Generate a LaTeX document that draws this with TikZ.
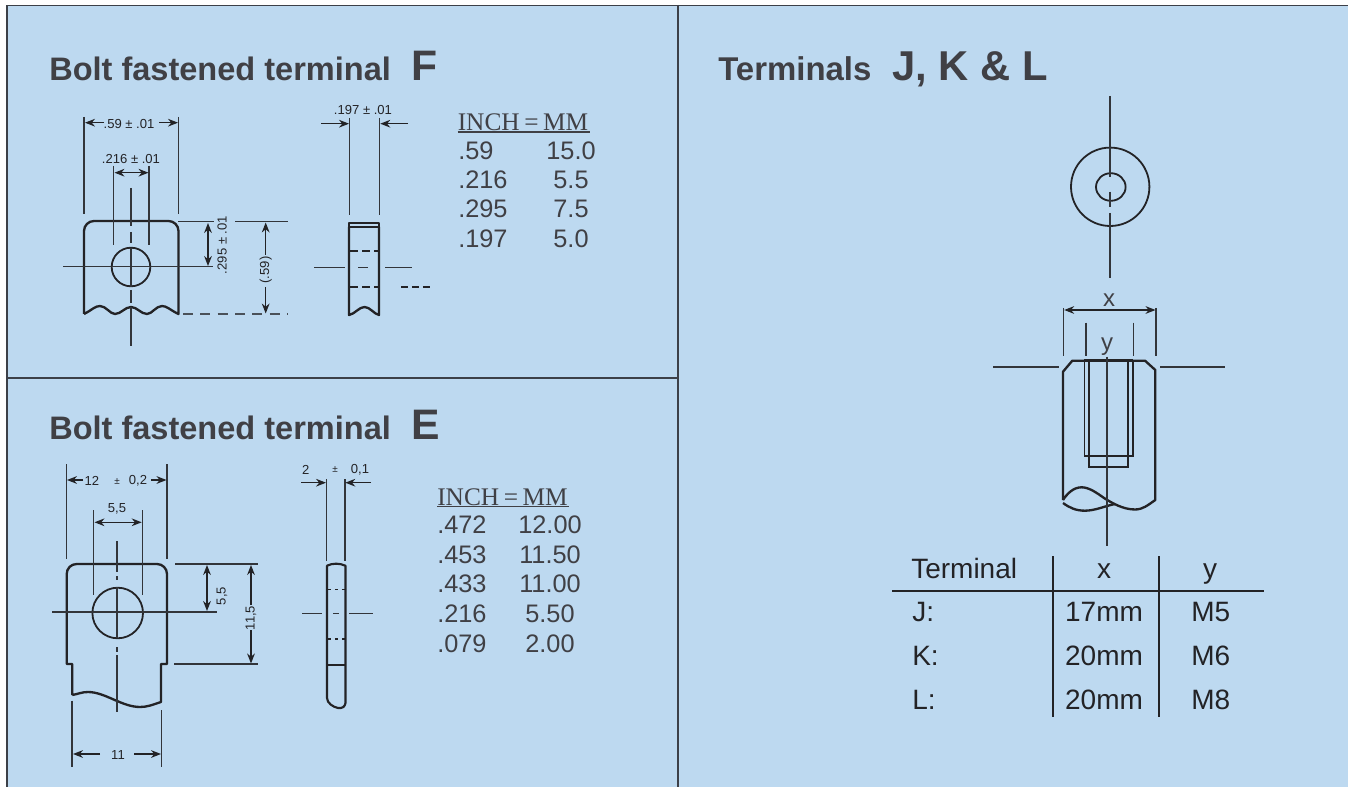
\documentclass[tikz,border=0pt]{standalone}
\usepackage{fontspec}
\setmainfont{Liberation Sans}
\newfontfamily\serifface{Liberation Serif}
\usetikzlibrary{arrows.meta}
\definecolor{panel}{HTML}{BDD9F0}
\definecolor{ink}{HTML}{232326}
\definecolor{frameink}{HTML}{3C4048}
\definecolor{txt}{HTML}{404045}
\newcommand{\fs}[1]{\fontsize{#1}{#1}\selectfont}
\tikzset{
  x=0.75pt,y=-0.75pt,
  outline/.style={draw=ink,line width=1.75pt,line join=round},
  ring/.style={draw=ink,line width=1.35pt},
  thin line/.style={draw=ink!90!panel,line width=0.9pt},
  dim/.style={draw=ink,line width=0.9pt,-{Stealth[length=7.5pt,width=5.8pt]}},
  dimboth/.style={draw=ink,line width=0.9pt,{Stealth[length=7.5pt,width=5.8pt]}-{Stealth[length=7.5pt,width=5.8pt]}},
  lab/.style={inner sep=0pt,text=ink,font=\fs{9.8}},
  title/.style={inner sep=0pt,anchor=base west,text=txt,font=\fs{24.4}\bfseries},
  bigt/.style={inner sep=0pt,anchor=base west,text=txt,font=\fs{32}\bfseries},
  inchhead/.style={inner sep=0pt,anchor=base west,text=txt,font=\serifface\fs{19}},
  rowl/.style={inner sep=0pt,anchor=base west,text=txt,font=\fs{19}},
  rowr/.style={inner sep=0pt,anchor=base,text=txt,font=\fs{19}},
  tbl/.style={inner sep=0pt,anchor=base,text=ink,font=\fs{21}},
  tbll/.style={inner sep=0pt,anchor=base west,text=ink,font=\fs{21}},
}
\begin{document}
\begin{tikzpicture}
\useasboundingbox (0,0) rectangle (1348,787);
\fill[white] (0,0) rectangle (1348,787);
\fill[panel] (7,5) rectangle (1348,787);
\draw[frameink,line width=1pt] (7,787) -- (7,5.5) -- (1348,5.5);
\draw[frameink,line width=1.1pt] (678,5) -- (678,787);
\draw[frameink,line width=1.1pt] (7,378) -- (678,378);

% ---------- Terminal F ----------
\node[title] (tF) at (49,81) {Bolt fastened terminal};
\node[bigt] (bF) at (411,81) {F};
\draw[outline] (84,314) -- (84,231) .. controls (84,225.5) and (88.5,221) .. (94,221) -- (168.5,221) .. controls (174,221) and (178.5,225.5) .. (178.5,231) -- (178.5,314)
  .. controls (170,310) and (167,306) .. (162,306) .. controls (156,306) and (152,314) .. (147,314)
  .. controls (141,314) and (137,307) .. (131,307) .. controls (125,307) and (121,314) .. (115,314)
  .. controls (110,314) and (106,306) .. (100,306) .. controls (95,306) and (92,310) .. (84,314);
\draw[ring] (131,267) circle[radius=19.3];
\draw[thin line] (84,117) -- (84,214);
\draw[thin line] (178.6,117) -- (178.6,214);
\draw[dim] (104,122.7) -- (85,122.7);
\draw[dim] (159,122.7) -- (178,122.7);
\node[lab] (a1) at (129,124) {.59 ± .01};
\node[lab] (a2) at (131,159) {.216 ± .01};
\draw[thin line] (113.7,166) -- (113.7,245);
\draw[thin line] (149,166) -- (149,245);
\draw[dimboth] (114.5,172.7) -- (148.5,172.7);
\draw[thin line] (131,188) -- (131,226) (131,232) -- (131,243) (131,248) -- (131,287) (131,290) -- (131,303) (131,307) -- (131,346);
\draw[thin line] (63,266.7) -- (213,266.7);
\draw[thin line] (178,221.5) -- (214,221.5);
\draw[dimboth] (208,223) -- (208,266);
\node[lab,rotate=90] (a3) at (222,245) {.295 ± .01};
\draw[thin line] (235,221.5) -- (288,221.5);
\draw[dim] (265.7,255) -- (265.7,222.5);
\draw[dim] (265.7,287) -- (265.7,313.5);
\node[lab,rotate=90] (a4) at (265.7,270) {(.59)};
\draw[draw=ink!75!panel,line width=1pt,dash pattern=on 7.5pt off 5.5pt] (183,314) -- (288,314);

% side view F
\node[lab] (a5) at (363,110) {.197 ± .01};
\draw[thin line] (349.7,118) -- (349.7,215);
\draw[thin line] (379.7,118) -- (379.7,215);
\draw[dim] (321,123.7) -- (349,123.7);
\draw[dim] (408,123.7) -- (380.3,123.7);
\draw[outline,line width=1.4pt] (349,222.7) rectangle (379,227);
\draw[outline] (349,227) -- (349,315) .. controls (355,314) and (359,307) .. (364.5,307) .. controls (370,307) and (374,314) .. (379,315) -- (379,227);
\draw[ink,line width=1.3pt,dash pattern=on 6pt off 3pt] (350,250.7) -- (379,250.7);
\draw[ink,line width=1.3pt,dash pattern=on 6pt off 3pt] (350,286.7) -- (379,286.7);
\draw[thin line] (314,267.7) -- (345,267.7) (358,267.7) -- (368,267.7) (385,267.7) -- (412,267.7);
\draw[ink,line width=1.3pt,dash pattern=on 5.5pt off 2.7pt] (401,286.7) -- (432,286.7);

% table F
\node[inchhead] (h1) at (457.5,130.5) {INCH\hspace{0.3pt}\,=\,\hspace{0.3pt}MM};
\draw[txt,line width=0.8pt] (457.5,132) -- (589.5,132);
\node[rowl] (r11) at (458,159.5) {.59};  \node[rowr] (r12) at (571,159.5) {15.0};
\node[rowl] (r21) at (458,188.5) {.216}; \node[rowr] (r22) at (571,188.5) {5.5};
\node[rowl] (r31) at (458,218) {.295}; \node[rowr] (r32) at (571,218) {7.5};
\node[rowl] (r41) at (458,247.5) {.197}; \node[rowr] (r42) at (571,247.5) {5.0};

% ---------- Terminal E ----------
\node[title] (tE) at (49,439) {Bolt fastened terminal};
\node[bigt] (bE) at (411,439) {E};
\draw[outline] (72.3,695) -- (72.3,664) -- (66.7,664) -- (66.7,574) .. controls (66.7,568.5) and (71,564) .. (76.7,564) -- (157,564) .. controls (162.5,564) and (167,568.5) .. (167,574) -- (167,664) -- (161,664) -- (161,702)
  .. controls (152,705) and (147,707) .. (140,707) .. controls (122,707) and (105,692) .. (88,692) .. controls (82,692) and (78,694) .. (72.3,695);
\draw[ring] (117.7,613) circle[radius=25.3];
\draw[thin line] (66.5,464) -- (66.5,559);
\draw[thin line] (167,464) -- (167,559);
\draw[dim] (83,480) -- (67,480);
\draw[dim] (151,480) -- (166.5,480);
\node[lab] (b1) at (92,481) {12};
\node[lab,font=\fs{7.5}] (b2) at (117,481.5) {±};
\node[lab] (b3) at (138,481) {0,2};
\node[lab] (b4) at (117,508.5) {5,5};
\draw[thin line] (93.7,510) -- (93.7,595);
\draw[thin line] (142.3,510) -- (142.3,595);
\draw[dimboth] (94.5,522.3) -- (141.7,522.3);
\draw[thin line] (117,541) -- (117,572) (117,576) -- (117,580) (117,587) -- (117,638) (117,647) -- (117,652) (117,655) -- (117,712);
\draw[thin line] (52,612) -- (217,612);
\draw[thin line] (175,564) -- (258,564);
\draw[thin line] (174,664) -- (258,664);
\draw[dimboth] (207,565) -- (207,611);
\node[lab,rotate=90] (b5) at (222,596) {5,5};
\draw[dim] (251,605) -- (251,565);
\draw[dim] (251,630) -- (251,663.5);
\node[lab,rotate=90] (b6) at (251,618) {11,5};
\draw[thin line] (72,700.7) -- (72,766.7);
\draw[thin line] (161.7,710) -- (161.7,766.7);
\draw[dim] (100,754) -- (73,754);
\draw[dim] (134,754) -- (161,754);
\node[lab] (b7) at (118,754.5) {11};

% side view E
\node[lab] (b8) at (305.7,469.5) {2};
\node[lab,font=\fs{7.5}] (b9) at (335,470) {±};
\node[lab] (b10) at (360,469.5) {0,1};
\draw[thin line] (326.3,479) -- (326.3,561);
\draw[thin line] (345,479) -- (345,561);
\draw[dim] (301,482.7) -- (326,482.7);
\draw[dim] (371,482.7) -- (345.3,482.7);
\draw[outline,line width=1.6pt] (327,565.7) .. controls (333,563) and (339,563) .. (345.5,565.7) -- (345.5,703) .. controls (345,707) and (342,708.5) .. (338,708)
  .. controls (333,707) and (327,703) .. (327,698) -- cycle;
\draw[ink,line width=1.4pt] (327,665.3) -- (345.5,665.3);
\draw[ink,line width=1.2pt,dash pattern=on 2.6pt off 2.6pt] (328,589.3) -- (345,589.3);
\draw[ink,line width=1.2pt,dash pattern=on 2.6pt off 2.6pt] (328,638.7) -- (345,638.7);
\draw[thin line] (302,613.3) -- (322,613.3) (333,613.3) -- (339,613.3) (349,613.3) -- (373,613.3);

% table E
\node[inchhead] (h2) at (437,505) {INCH\hspace{0.3pt}\,=\,\hspace{0.3pt}MM};
\draw[txt,line width=0.8pt] (437,506.5) -- (569,506.5);
\node[rowl] (s11) at (437,533.8) {.472}; \node[rowr] (s12) at (550,533.8) {12.00};
\node[rowl] (s21) at (437,563.3) {.453};   \node[rowr] (s22) at (550,563.3) {11.50};
\node[rowl] (s31) at (437,592.5) {.433};   \node[rowr] (s32) at (550,592.5) {11.00};
\node[rowl] (s41) at (437,622) {.216};   \node[rowr] (s42) at (550,622) {5.50};
\node[rowl] (s51) at (437,652) {.079}; \node[rowr] (s52) at (550,652) {2.00};

% ---------- Terminals J,K,L ----------
\node[title,font=\fs{24.7}\bfseries] (tJ) at (718,81) {Terminals};
\node[bigt,font=\fs{31.3}\bfseries] (bJ) at (892,80.5) {J, K \& L};
\draw[ring] (1110.2,186.8) circle[radius=39.2];
\draw[ring] (1110.8,187) ellipse[x radius=14.8,y radius=13.8];
\draw[thin line] (1110,96) -- (1110,176.7) (1110,191.7) -- (1110,206.7) (1110,213) -- (1110,278);
\draw[thin line] (1063.7,308) -- (1063.7,356);
\draw[thin line] (1156,308) -- (1156,356);
\draw[thin line] (1086,322.7) -- (1086,356);
\draw[thin line] (1133.3,322.7) -- (1133.3,356);
\draw[dimboth] (1064.2,310) -- (1155.5,310);
\node[inner sep=0pt,anchor=base,text=txt,font=\fs{18}] (cx) at (1109,307) {x};
\node[inner sep=0pt,anchor=base,text=txt,font=\fs{18}] (cy) at (1107,350.5) {y};
\draw[outline] (1063,500) -- (1063,371.7) -- (1072.3,360.7) -- (1145,360.7) -- (1155.3,370) -- (1155.3,500)
  .. controls (1148,505) and (1143,509.5) .. (1135,509.5) .. controls (1123,509.5) and (1112,503) .. (1104,498)
  .. controls (1097,493) and (1089,487.3) .. (1081.7,487.3) .. controls (1073,487.3) and (1067,494) .. (1063,500);
\draw[outline] (1063,503) .. controls (1070,508) and (1076,510.7) .. (1085,510.7) .. controls (1095,510.7) and (1105,506) .. (1115,504);
\draw[ink,line width=1.2pt] (1084.3,360.7) -- (1084.3,455.7) -- (1133,455.7) -- (1133,360.7);
\draw[ink,line width=1.4pt] (1089,360.7) -- (1089,466.7) -- (1127.7,466.7) -- (1127.7,360.7);
\draw[ink,line width=2.2pt] (1084.3,360.7) -- (1133,360.7);
\draw[thin line] (1107,356.7) -- (1107,545.7);
\draw[thin line] (993,367) -- (1059,367);
\draw[thin line] (1160,367) -- (1225,367);

% table right
\node[tbll] (t1) at (911,578) {Terminal};
\node[tbl] (t2) at (1104,578) {x};
\node[tbl] (t3) at (1210,578) {y};
\node[tbll] (j1) at (912,621.7) {J:};
\node[tbl] (j2) at (1104,621.7) {17mm};
\node[tbl] (j3) at (1210.7,621.7) {M5};
\node[tbll] (k1) at (912,665.7) {K:};
\node[tbl] (k2) at (1104,665.7) {20mm};
\node[tbl] (k3) at (1210.7,665.7) {M6};
\node[tbll] (l1) at (912,709) {L:};
\node[tbl] (l2) at (1104,709) {20mm};
\node[tbl] (l3) at (1210.7,709) {M8};
\draw[ink,line width=1.5pt] (1053.3,556) -- (1053.3,716.7);
\draw[ink,line width=1.5pt] (1159.3,556) -- (1159.3,716.7);
\draw[ink,line width=1.6pt] (892,590.7) -- (1264,590.7);
\end{tikzpicture}
\end{document}
